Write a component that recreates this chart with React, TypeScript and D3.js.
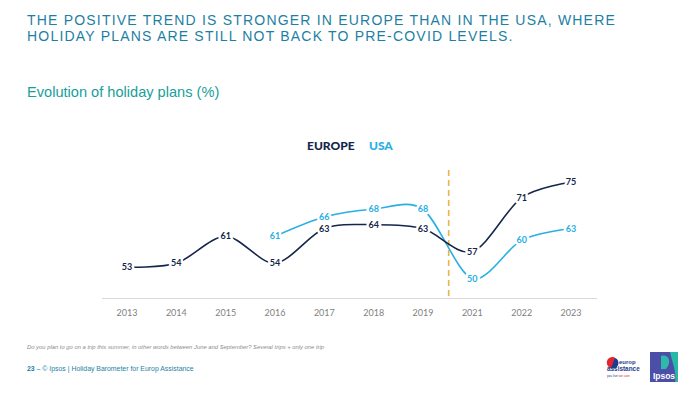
import React from 'react';
import * as d3 from 'd3';

// years shown on the axis (no 2020 survey)
const years = ['2013', '2014', '2015', '2016', '2017', '2018', '2019', '2021', '2022', '2023'];
const europe = [53, 54, 61, 54, 63, 64, 63, 57, 71, 75];
const usaYears = ['2016', '2017', '2018', '2019', '2021', '2022', '2023'];
const usa = [61, 66, 68, 68, 50, 60, 63];

const titleLines = [
  'THE POSITIVE TREND IS STRONGER IN EUROPE THAN IN THE USA, WHERE',
  'HOLIDAY PLANS ARE STILL NOT BACK TO PRE-COVID LEVELS.',
];
const subtitle = 'Evolution of holiday plans (%)';
const footnote = 'Do you plan to go on a trip this summer, in other words between June and September? Several trips + only one trip';
const footer = '© Ipsos | Holiday Barometer for Europ Assistance';

const navy = '#14264a';
const sky = '#29afe3';
const teal = '#1c7fa3';

export default function App() {
  const W = 700, H = 394;
  const x = d3.scalePoint<string>().domain(years).range([127, 571]);
  const y = d3.scaleLinear().domain([45, 80]).range([298, 163]);

  const line = d3.line<[string, number]>()
    .x(d => x(d[0]) as number)
    .y(d => y(d[1]))
    .curve(d3.curveCardinal.tension(0.1));

  const eu: [string, number][] = years.map((yr, i) => [yr, europe[i]]);
  const us: [string, number][] = usaYears.map((yr, i) => [yr, usa[i]]);

  const covidX = ((x('2019') as number) + (x('2021') as number)) / 2 + 1;

  const labels = (pts: [string, number][], color: string) =>
    pts.map((d, i) => (
      <text key={color + i} x={x(d[0])} y={y(d[1]) + 3.2} textAnchor="middle"
        fontFamily="Lato, 'Noto Sans', sans-serif" fontWeight={700} fontSize={9}
        fill={color} stroke="#fff" strokeWidth={5} paintOrder="stroke"
        strokeLinejoin="round">{d[1]}</text>
    ));

  return (
    <svg width={W} height={H} style={{ position: 'absolute', left: 0, top: 0 }}>
      <rect width={W} height={H} fill="#fff" />
      {titleLines.map((t, i) => (
        <text key={i} x={27} y={25 + i * 16} fontFamily="'Liberation Sans', Arial, sans-serif"
          fontSize={14} letterSpacing={1.2} fill={teal}>{t}</text>
      ))}
      <text x={27} y={97} fontFamily="'Liberation Sans', Arial, sans-serif" fontSize={14.6}
        fill="#17a09a">{subtitle}</text>

      {/* legend */}
      <text x={307} y={150} fontFamily="Lato, 'Noto Sans', sans-serif" fontWeight={900}
        fontSize={12} fill={navy}>EUROPE</text>
      <text x={369} y={150} fontFamily="Lato, 'Noto Sans', sans-serif" fontWeight={900}
        fontSize={12} fill={sky}>USA</text>

      {/* axis */}
      <line x1={102} x2={597} y1={298.5} y2={298.5} stroke="#d9d9d9" strokeWidth={1} />
      {years.map(yr => (
        <text key={yr} x={x(yr)} y={316} textAnchor="middle"
          fontFamily="Lato, 'Noto Sans', sans-serif" fontSize={9} fill="#7f7f7f">{yr}</text>
      ))}

      <line x1={covidX} x2={covidX} y1={170} y2={298} stroke="#e8b54a" strokeWidth={1.6}
        strokeDasharray="6,4" />

      <path d={line(us) || ''} fill="none" stroke={sky} strokeWidth={1.6} />
      <path d={line(eu) || ''} fill="none" stroke={navy} strokeWidth={1.6} />
      {labels(us, sky)}
      {labels(eu, navy)}

      {/* footer */}
      <text x={27} y={349} fontFamily="'Liberation Sans', Arial, sans-serif" fontStyle="italic"
        fontSize={5.85} fill="#8c8c8c">{footnote}</text>
      <text x={27} y={371} fontFamily="'Liberation Sans', Arial, sans-serif" fontSize={6.9}
        fill={teal}><tspan fontWeight={700}>23</tspan> –  {footer}</text>

      {/* europ assistance logo */}
      <g>
        <circle cx={613} cy={363} r={5.5} fill="#1f3b8c" />
        <path d="M609,367 A5.5,5.5 0 0 1 615,357.8 L611,368 Z" fill="#e3262e" />
        <text x={619} y={364} fontFamily="'Liberation Sans', Arial, sans-serif" fontWeight={700}
          fontSize={6} fill="#1f3b8c">europ</text>
        <text x={607} y={371} fontFamily="'Liberation Sans', Arial, sans-serif" fontWeight={700}
          fontSize={6.4} fill="#1f3b8c">assistance</text>
        <text x={607} y={377} fontFamily="'Liberation Sans', Arial, sans-serif" fontSize={3.2}
          fill="#1f3b8c">you live <tspan fill="#e3262e">we care</tspan></text>
      </g>
      {/* ipsos logo */}
      <g>
        <rect x={650} y={352} width={28} height={30} fill="#4b4fa8" />
        <path d="M670,352 L678,352 L678,382 L675,382 C677,372 672,362 670,352 Z" fill="#28b8a8" />
        <path d="M661,356 C668,354 671,360 668,366 L666,369 L661,369 Z" fill="#2fb9a9" />
        <text x={664} y={379} textAnchor="middle" fontFamily="'Liberation Sans', Arial, sans-serif"
          fontWeight={700} fontSize={8.5} fill="#fff">Ipsos</text>
      </g>
    </svg>
  );
}
